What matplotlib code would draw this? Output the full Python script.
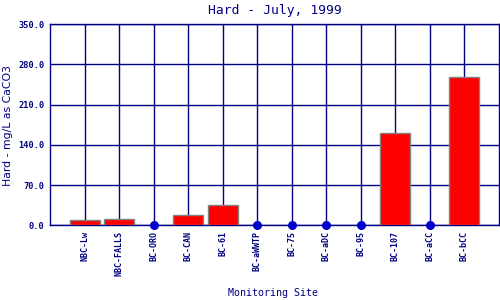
import matplotlib
matplotlib.use("Agg")
import matplotlib.pyplot as plt
import numpy as np

sites = ["NBC-Lw", "NBC-FALLS", "BC-ORO", "BC-CAN", "BC-61", "BC-aWWTP",
         "BC-75", "BC-aDC", "BC-95", "BC-107", "BC-aCC", "BC-bCC"]
hardness = [8.5, 10.5, 0.0, 18.5, 34.5, 0.0, 0.0, 0.0, 0.0, 160.0, 0.0, 258.0]
yticks = [0, 70, 140, 210, 280, 350]

navy = "#000080"
fig = plt.figure(figsize=(5, 3), dpi=100)
ax = fig.add_axes([0.1, 0.249, 0.898, 0.671])

x = np.arange(len(sites))
vals = np.array(hardness)
ax.set_axisbelow(True)
ax.grid(True, color=navy, linewidth=1.0)
bar_mask = vals > 0
ax.bar(x[bar_mask], vals[bar_mask], width=0.87, color="#ff0000",
       edgecolor="#808080", linewidth=1.0, zorder=3)
ax.scatter(x[~bar_mask], vals[~bar_mask], s=30, color="#0000cc", zorder=4,
           clip_on=False)

ax.set_xlim(-1, len(sites))
ax.set_ylim(0, 350)
ax.set_xticks(x)
ax.set_xticklabels(sites, rotation=90, fontsize=6, color=navy,
                   family="DejaVu Sans Mono", fontweight="bold")
ax.set_yticks(yticks)
ax.set_yticklabels([f"{v:.1f}" for v in yticks], fontsize=6.2, color=navy,
                   family="DejaVu Sans Mono", fontweight="bold")
ax.tick_params(length=0, pad=4)
for s in ax.spines.values():
    s.set_color(navy)
    s.set_linewidth(1.0)

ax.set_title("Hard - July, 1999", color=navy, fontsize=9.4,
             family="DejaVu Sans Mono", pad=7.5)
ax.set_xlabel("Monitoring Site", color=navy, fontsize=7.2,
              family="DejaVu Sans Mono")
ax.xaxis.set_label_coords(0.497, -0.311)
ax.set_ylabel("Hard - mg/L as CaCO3", color=navy, fontsize=7.8)
ax.yaxis.set_label_coords(-0.082, 0.496)

fig.savefig("out.png", dpi=100)
